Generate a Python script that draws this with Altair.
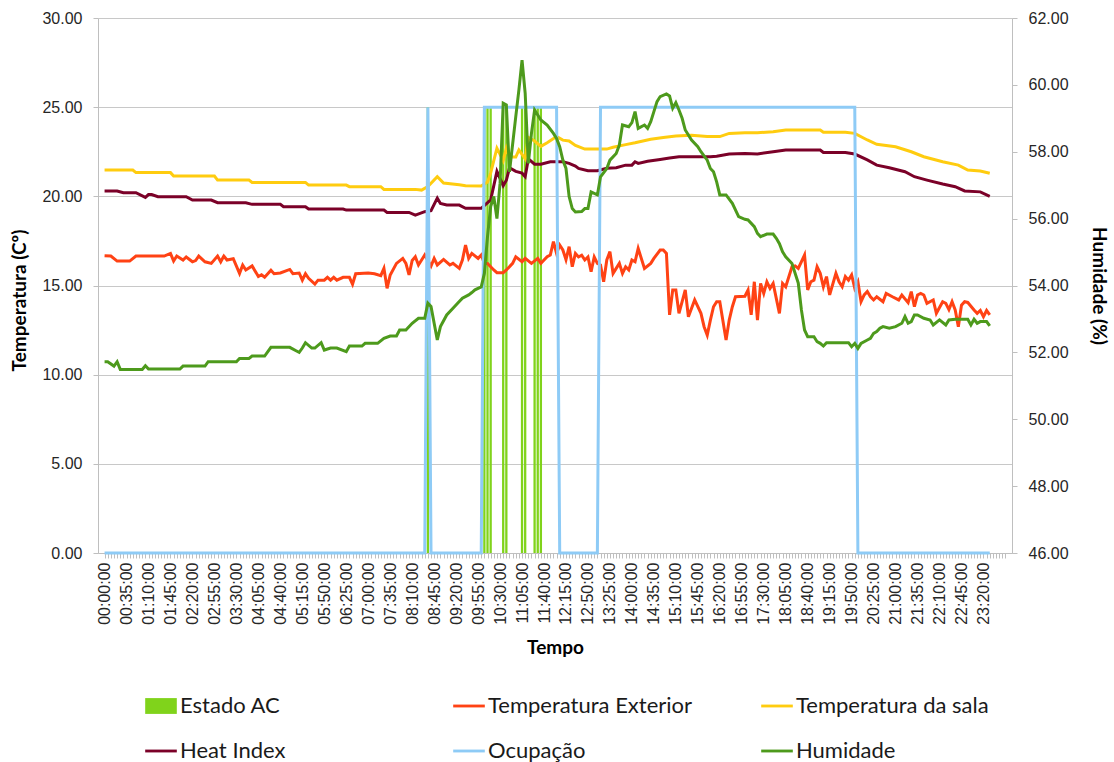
import altair as alt
import pandas as pd

# Times are minutes since midnight; the sensor logs every 5 minutes and the
# category axis holds 288 slots (00:00 .. 23:55), each reading centred in its slot.

# Estado AC: readings where the air conditioning was on (drawn as 25 on the left scale)
ac_min = [515, 605, 610, 615, 635, 640, 665, 670, 685, 690, 695]
ac_val = [25, 25, 25, 25, 25, 25, 25, 25, 25, 25, 25]

# Ocupação: room occupied (25) / empty (0)
ocup_min = [0, 510, 515, 520, 600, 605, 720, 725, 785, 790, 1195, 1200, 1410]
ocup_val = [0, 0, 25, 0, 0, 25, 25, 0, 0, 25, 25, 0, 0]

# Temperatura da sala (ºC)
sala_min = [0, 45, 50, 105, 110, 175, 180, 230, 235, 320, 325, 385, 390, 440, 445, 495,
            505, 515, 530, 540, 565, 575, 600, 610, 615, 620, 625, 635, 640, 645, 655,
            660, 670, 675, 685, 695, 705, 720, 730, 740, 750, 765, 800, 810, 830, 845,
            870, 890, 910, 935, 960, 980, 995, 1020, 1040, 1065, 1085, 1140, 1145,
            1180, 1195, 1215, 1230, 1260, 1285, 1305, 1335, 1360, 1375, 1395, 1410]
sala_val = [21.47, 21.47, 21.33, 21.33, 21.14, 21.14, 20.91, 20.91, 20.78, 20.78, 20.63,
            20.63, 20.54, 20.54, 20.39, 20.39, 20.35, 20.55, 21.10, 20.75, 20.65, 20.60,
            20.58, 20.80, 21.30, 22.00, 22.70, 22.00, 22.70, 22.20, 22.20, 22.60, 22.10,
            23.30, 23.10, 22.80, 23.00, 23.35, 23.15, 23.10, 22.85, 22.65, 22.65, 22.75,
            22.90, 23.00, 23.20, 23.30, 23.38, 23.42, 23.35, 23.35, 23.53, 23.57, 23.57,
            23.62, 23.72, 23.72, 23.59, 23.59, 23.53, 23.16, 22.92, 22.78, 22.50, 22.22,
            21.94, 21.75, 21.47, 21.42, 21.29]

# Heat Index (ºC)
hi_min = [0, 20, 30, 50, 65, 70, 75, 85, 130, 140, 170, 180, 225, 235, 280, 285, 320, 325,
          380, 385, 445, 450, 485, 495, 510, 520, 530, 535, 545, 565, 575, 600, 615, 625,
          635, 640, 645, 655, 665, 670, 675, 685, 695, 710, 730, 740, 750, 755, 770, 785,
          800, 815, 830, 840, 845, 850, 865, 885, 900, 915, 965, 975, 995, 1020, 1040,
          1065, 1085, 1140, 1145, 1180, 1195, 1215, 1230, 1250, 1275, 1290, 1310, 1335,
          1355, 1370, 1395, 1410]
hi_val = [20.30, 20.30, 20.20, 20.20, 19.94, 20.10, 20.10, 19.98, 19.98, 19.79, 19.79,
          19.64, 19.64, 19.55, 19.55, 19.42, 19.42, 19.29, 19.29, 19.23, 19.23, 19.10,
          19.10, 18.95, 19.14, 19.20, 19.90, 19.60, 19.51, 19.51, 19.33, 19.33, 19.80,
          21.40, 20.60, 20.90, 21.60, 21.40, 21.30, 21.10, 22.10, 21.80, 21.80, 21.94,
          21.94, 21.85, 21.70, 21.57, 21.44, 21.44, 21.57, 21.60, 21.75, 21.75, 21.94,
          21.85, 21.97, 22.07, 22.15, 22.22, 22.22, 22.25, 22.37, 22.40, 22.38, 22.50,
          22.60, 22.60, 22.46, 22.46, 22.37, 22.04, 21.75, 21.60, 21.38, 21.10, 20.91,
          20.69, 20.54, 20.30, 20.25, 20.00]

# Temperatura Exterior (ºC)
ext_min = [0, 10, 20, 40, 50, 95, 105, 110, 115, 125, 130, 140, 145, 150, 160, 170, 180,
           185, 190, 195, 205, 215, 220, 225, 235, 245, 250, 255, 265, 270, 280, 295, 300,
           310, 315, 320, 325, 335, 340, 350, 355, 360, 365, 370, 380, 390, 395, 400, 420,
           430, 440, 445, 450, 455, 465, 475, 480, 485, 490, 495, 500, 510, 520, 525, 530,
           540, 550, 555, 565, 570, 575, 580, 585, 595, 600, 605, 610, 620, 625, 635, 640,
           650, 655, 665, 670, 680, 690, 695, 705, 710, 715, 720, 725, 730, 735, 740, 745,
           750, 755, 760, 765, 770, 775, 780, 785, 790, 795, 800, 805, 810, 820, 825, 830,
           835, 840, 845, 850, 860, 870, 875, 885, 890, 895, 900, 905, 910, 915, 925, 930,
           940, 950, 955, 960, 965, 970, 975, 980, 990, 995, 1000, 1005, 1020, 1025,
           1030, 1035, 1040, 1045, 1050, 1055, 1060, 1065, 1075, 1080, 1085, 1095, 1100,
           1105, 1115, 1120, 1125, 1130, 1135, 1140, 1145, 1150, 1155, 1165, 1170, 1175,
           1180, 1185, 1190, 1195, 1200, 1205, 1210, 1215, 1220, 1225, 1230, 1240, 1245,
           1255, 1265, 1270, 1280, 1285, 1290, 1295, 1300, 1305, 1310, 1320, 1325, 1335,
           1340, 1345, 1350, 1355, 1360, 1365, 1370, 1375, 1385, 1390, 1395, 1400, 1405,
           1410]
ext_val = [16.67, 16.65, 16.37, 16.37, 16.65, 16.65, 16.80, 16.37, 16.65, 16.43, 16.60,
           16.33, 16.40, 16.65, 16.33, 16.24, 16.65, 16.33, 16.65, 16.43, 16.50, 15.68,
           16.15, 15.87, 16.10, 15.50, 15.60, 15.46, 15.85, 15.66, 15.70, 15.90, 15.66,
           15.70, 15.30, 15.66, 15.40, 15.08, 15.30, 15.30, 15.46, 15.30, 15.46, 15.30,
           15.46, 15.46, 15.07, 15.66, 15.70, 15.66, 15.55, 15.96, 14.84, 15.59, 16.24,
           16.52, 16.24, 15.59, 16.40, 16.61, 16.15, 16.71, 16.09, 16.52, 16.15, 16.46,
           16.15, 16.24, 15.96, 16.43, 17.27, 16.52, 16.80, 16.52, 16.71, 16.24, 16.24,
           15.87, 15.72, 15.72, 15.87, 16.24, 16.61, 16.33, 16.52, 16.24, 16.52, 16.24,
           16.61, 16.71, 17.46, 16.80, 17.27, 16.99, 16.45, 17.18, 16.05, 16.80, 16.60,
           16.70, 16.43, 16.60, 15.78, 16.60, 16.24, 16.15, 15.21, 16.43, 16.90, 15.68,
           16.24, 15.68, 16.05, 15.87, 16.43, 16.33, 17.08, 15.96, 16.24, 16.52, 16.99,
           16.99, 16.80, 13.35, 14.75, 14.75, 13.44, 14.75, 13.25, 14.19, 13.44, 12.69,
           12.22, 13.06, 13.81, 14.09, 14.09, 11.94, 13.06, 13.81, 14.37, 14.40, 14.75,
           13.35, 15.21, 13.06, 15.12, 14.56, 15.21, 14.84, 15.12, 13.44, 15.12, 14.93,
           16.05, 16.10, 15.96, 16.71, 14.75, 15.21, 15.30, 16.05, 15.68, 14.93, 15.50,
           14.47, 15.68, 15.21, 14.93, 15.50, 15.30, 15.59, 14.84, 15.21, 14.09, 14.47,
           14.66, 14.37, 14.19, 14.37, 14.09, 14.56, 14.37, 14.19, 14.47, 14.04, 14.66,
           13.81, 14.47, 14.56, 14.47, 14.00, 14.19, 13.44, 14.09, 14.00, 13.65, 14.09,
           13.63, 12.69, 13.90, 14.09, 14.05, 13.63, 13.44, 13.60, 13.25, 13.60, 13.35]

# Humidade (%), right-hand scale
hum_min = [0, 5, 15, 20, 25, 60, 65, 70, 120, 125, 160, 165, 210, 215, 230, 235, 255, 265,
           295, 305, 310, 315, 320, 330, 335, 345, 350, 360, 370, 385, 390, 410, 415, 435,
           445, 455, 465, 470, 480, 490, 500, 510, 515, 520, 530, 535, 545, 555, 565, 570,
           580, 585, 590, 600, 605, 610, 615, 620, 625, 630, 635, 640, 645, 655, 660, 665,
           670, 675, 680, 685, 695, 705, 715, 720, 725, 730, 735, 740, 745, 750, 760, 765,
           770, 775, 785, 790, 800, 805, 815, 820, 825, 835, 840, 845, 850, 860, 865, 870,
           875, 880, 885, 895, 900, 905, 910, 915, 920, 925, 935, 945, 950, 960, 965, 970,
           975, 980, 990, 1000, 1010, 1020, 1025, 1035, 1040, 1045, 1055, 1065, 1070,
           1075, 1080, 1085, 1095, 1105, 1110, 1115, 1120, 1130, 1135, 1140, 1145, 1150,
           1185, 1190, 1195, 1200, 1205, 1215, 1220, 1225, 1230, 1235, 1240, 1250, 1260,
           1270, 1275, 1280, 1285, 1290, 1295, 1305, 1315, 1320, 1330, 1340, 1345, 1355,
           1375, 1380, 1385, 1390, 1395, 1405, 1410]
hum_val = [51.72, 51.72, 51.59, 51.72, 51.49, 51.49, 51.60, 51.50, 51.50, 51.59, 51.59,
           51.72, 51.72, 51.82, 51.82, 51.89, 51.89, 52.15, 52.15, 52.05, 52.00, 52.13,
           52.29, 52.13, 52.13, 52.29, 52.07, 52.13, 52.13, 52.02, 52.19, 52.19, 52.27,
           52.27, 52.42, 52.49, 52.49, 52.67, 52.67, 52.87, 53.02, 53.02, 53.47, 53.37,
           52.37, 52.77, 53.12, 53.32, 53.52, 53.62, 53.72, 53.79, 53.87, 53.96, 54.36,
           55.46, 56.36, 56.66, 56.00, 57.06, 59.45, 59.40, 57.40, 59.05, 59.85, 60.74,
           59.75, 57.65, 58.55, 59.25, 58.95, 58.80, 58.55, 58.40, 58.15, 57.75, 57.50,
           56.66, 56.30, 56.20, 56.21, 56.30, 56.30, 56.80, 56.71, 57.25, 57.50, 57.75,
           57.95, 58.20, 58.80, 58.75, 58.87, 59.20, 58.70, 58.80, 58.70, 58.90, 59.20,
           59.50, 59.65, 59.73, 59.67, 59.30, 59.47, 59.25, 59.00, 58.65, 58.35, 58.15,
           58.00, 57.75, 57.50, 57.40, 57.10, 56.71, 56.71, 56.46, 56.06, 55.98, 55.96,
           55.76, 55.56, 55.46, 55.54, 55.54, 55.41, 55.25, 55.01, 54.86, 54.66, 54.07,
           53.27, 52.67, 52.47, 52.47, 52.32, 52.27, 52.19, 52.29, 52.29, 52.17, 52.27,
           52.12, 52.27, 52.37, 52.42, 52.57, 52.62, 52.72, 52.77, 52.72, 52.77, 52.87,
           53.07, 52.87, 52.92, 53.12, 53.12, 53.02, 52.97, 52.82, 52.97, 52.82, 52.97,
           52.99, 52.99, 52.82, 52.99, 52.87, 52.92, 52.92, 52.79]

series_names = ["Estado AC", "Temperatura Exterior", "Temperatura da sala",
                "Heat Index", "Ocupação", "Humidade"]
series_colors = ["#80D31B", "#FF4214", "#FFCC0F", "#7B0128", "#8ECBF6", "#4D9A1C"]
# legend keys: a block for the columns, a thin bar for each line
key_block = "M-1,-0.5H1V0.5H-1Z"
key_line = "M-1,-0.09H1V0.09H-1Z"
series_keys = [key_block, key_line, key_line, key_line, key_line, key_line]

temp_ticks = [0, 5, 10, 15, 20, 25, 30]
hum_ticks = [46, 48, 50, 52, 54, 56, 58, 60, 62]
x_ticks = list(range(0, 1440, 5))  # one tick per 5-minute slot


def frame(name, minutes, values):
    return pd.DataFrame({"serie": name, "t": minutes, "valor": values})


ac_df = frame("Estado AC", ac_min, ac_val)
ext_df = frame("Temperatura Exterior", ext_min, ext_val)
sala_df = frame("Temperatura da sala", sala_min, sala_val)
hi_df = frame("Heat Index", hi_min, hi_val)
ocup_df = frame("Ocupação", ocup_min, ocup_val)
hum_df = frame("Humidade", hum_min, hum_val)
# one row per series, only used to build the legend keys
key_df = pd.DataFrame({"serie": series_names, "t": [0] * 6, "valor": [0] * 6})

legend = alt.Legend(
    title=None, orient="none", legendX=47, legendY=672, columns=3, direction="horizontal",
    gridAlign="all", columnPadding=68, rowPadding=18, labelLimit=400,
    labelOffset=3, symbolSize=1000, symbolOpacity=1, symbolStrokeWidth=0,
)
color = alt.Color("serie:N", scale=alt.Scale(domain=series_names, range=series_colors),
                  legend=legend)
shape = alt.Shape("serie:N", scale=alt.Scale(domain=series_names, range=series_keys),
                  legend=legend)

x_enc = alt.X(
    "t:Q",
    scale=alt.Scale(domain=[-2.5, 1437.5], nice=False, zero=False),
    axis=alt.Axis(
        values=x_ticks, title="Tempo", labelAngle=-90, labelOverlap=False,
        labelFlush=False, grid=False, tickSize=5, labelPadding=4, titlePadding=14,
        labelExpr="(datum.value % 35 === 0 && datum.value <= 1400) ? timeFormat(datetime(2000, 0, 1, floor(datum.value / 60), datum.value % 60), '%H:%M:%S') : ''",
    ),
)
y_left = alt.Y(
    "valor:Q",
    scale=alt.Scale(domain=[0, 30], nice=False),
    axis=alt.Axis(values=temp_ticks, format=".2f", title="Temperatura (Cº)",
                  grid=True, tickSize=5, labelPadding=11, titlePadding=12, titleY=282),
)
y_right = alt.Y(
    "valor:Q",
    scale=alt.Scale(domain=[46, 62], nice=False, zero=False),
    axis=alt.Axis(values=hum_ticks, format=".2f", title="Humidade (%)", orient="right",
                  grid=False, tickSize=5, labelPadding=11, titlePadding=20),
)

bars = alt.Chart(ac_df).mark_bar(width=2.3).encode(x=x_enc, y=y_left, color=color)
keys = alt.Chart(key_df).mark_point(filled=True, opacity=0, size=1).encode(
    x=x_enc, y=y_left, color=color, shape=shape)


def temp_line(df):
    return alt.Chart(df).mark_line(strokeWidth=3).encode(x=x_enc, y=y_left, color=color)


left = alt.layer(keys, bars, temp_line(ext_df), temp_line(sala_df), temp_line(hi_df),
                 temp_line(ocup_df))
right = alt.Chart(hum_df).mark_line(strokeWidth=3).encode(x=x_enc, y=y_right, color=color)

chart = (
    alt.layer(left, right)
    .resolve_scale(y="independent")
    .properties(
        width=914, height=535,
        autosize=alt.AutoSizeParams(type="none"),
        padding={"left": 98, "top": 18, "right": 102, "bottom": 209},
        background="white",
    )
    .configure_view(stroke=None)
    .configure_axis(
        labelFont="Liberation Sans", labelFontSize=16, labelColor="#262626",
        titleFont="Lato", titleFontSize=19, titleFontWeight="bold", titleColor="#000000",
        domainColor="#BFBFBF", tickColor="#BFBFBF", gridColor="#C8C8C8",
    )
    .configure_legend(labelFont="Lato", labelFontSize=22, labelColor="#1A1A1A")
)

chart.save("out.html", embed_options={"renderer": "svg", "actions": False})
